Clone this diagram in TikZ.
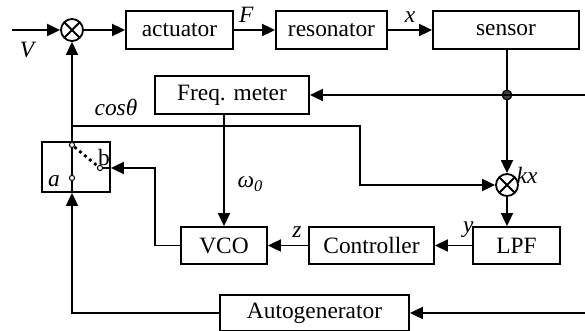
\documentclass[tikz,border=0pt]{standalone}
\usepackage{fontspec}
\setmainfont{Liberation Serif}
\usetikzlibrary{arrows.meta, positioning}

\tikzset{
    block/.style={draw, rectangle, inner sep=0pt, minimum height=19pt,
        font=\fontsize{11.7}{14}\selectfont},
    mixer/.style={draw, circle, minimum size=11pt, inner sep=0pt,
        path picture={\draw[-] (path picture bounding box.north west) -- (path picture bounding box.south east)
            (path picture bounding box.north east) -- (path picture bounding box.south west);}},
    contact/.style={draw, circle, fill=white, line width=0.5pt, minimum size=2.6pt, inner sep=0pt},
    lbl/.style={font=\fontsize{11.7}{14}\selectfont\itshape}
}

\begin{document}
\begin{tikzpicture}[
            ->,
            >={Triangle[length=6.5pt,width=6pt]},
            line width=0.9pt,
            x=0.5pt, y=-0.5pt]
            \useasboundingbox (0,0) rectangle (585,331);

            \node [mixer] (sum) at (72,30) {};
            \node [block, minimum width=53.5pt] (act) at (179.5,30) {actuator};
            \node [block, minimum width=55.5pt] (res) at (331.5,30) {resonator};
            \node [block, minimum width=73pt] (sen) at (506,30) {sensor};
            \node [block, minimum width=77pt] (fm) at (232,95) {Freq. meter};
            \node [mixer] (mix) at (507,185) {};
            \node [block, minimum width=43pt, minimum height=18.5pt] (vco) at (224,245.5) {VCO};
            \node [block, minimum width=62.5pt, minimum height=18.5pt] (ctrl) at (371.5,245.5) {Controller};
            \node [block, minimum width=43.5pt, minimum height=18.5pt] (lpf) at (516.5,245.5) {LPF};
            \node [block, minimum width=94.5pt, minimum height=18pt] (ag) at (314.5,313) {Autogenerator};

            % switch
            \node [draw, minimum width=34pt, minimum height=25pt] (sw) at (76,167) {};
            \node [contact] (c0) at (72,145) {};
            \node [contact] (ca) at (72,178) {};
            \node [contact] (cb) at (100,168) {};
            \node [lbl] at (54,181) {a};
            \node [font=\fontsize{11.7}{14}\selectfont] at (104,157) {b};

            \coordinate (vin) at (12,30);
            \coordinate (dot) at (mix |- fm.east);
            \coordinate (rin) at (585,95);
            \coordinate (rin2) at (585,313);
            \coordinate (tap) at (72,126);
            \coordinate (turn) at (360,126);
            \coordinate (bend) at (155,168);

            \path (vin) edge (sum)
                  (sum) edge (act)
                  (act) edge node [lbl,above,pos=0.3] {F} (res)
                  (res) edge node [lbl,above] {x} (sen);
            \node [lbl] at (27,50) {V};

            \draw (sen.south -| mix) -- (mix);
            \filldraw [fill=black!75, line width=0.6pt] (dot) circle (2.4pt);
            \draw (rin) -- (fm.east);
            \node [lbl] at (527,175) {kx};

            \draw (vco |- fm.south) -- node [lbl,right,pos=0.62,xshift=3pt] {ω\textsubscript{0}} (vco);
            \draw (mix) -- (mix |- lpf.north);
            \path (lpf) edge node [lbl,above,pos=0.1] {y} (ctrl)
                  (ctrl) edge node [lbl,above,pos=0.28] {z} (vco);

            \draw (vco.west) -| (bend) -- (sw.east |- cb);
            \draw [-] (sw.east |- cb) -- (cb);

            \draw [-] (c0) -- (ca);
            \draw [-, line width=1.4pt, dash pattern=on 1.4pt off 1.8pt] (c0) -- (cb);
            \draw (c0) -- (sum);
            \draw (tap) -- (turn) |- (mix.west);
            \node [lbl] at (116,107) {cosθ};

            \draw (rin2) -- (ag.east);
            \draw (ag.west) -| (sw.south -| ca);
            \draw [-] (sw.south -| ca) -- (ca);

        \end{tikzpicture}
\end{document}
